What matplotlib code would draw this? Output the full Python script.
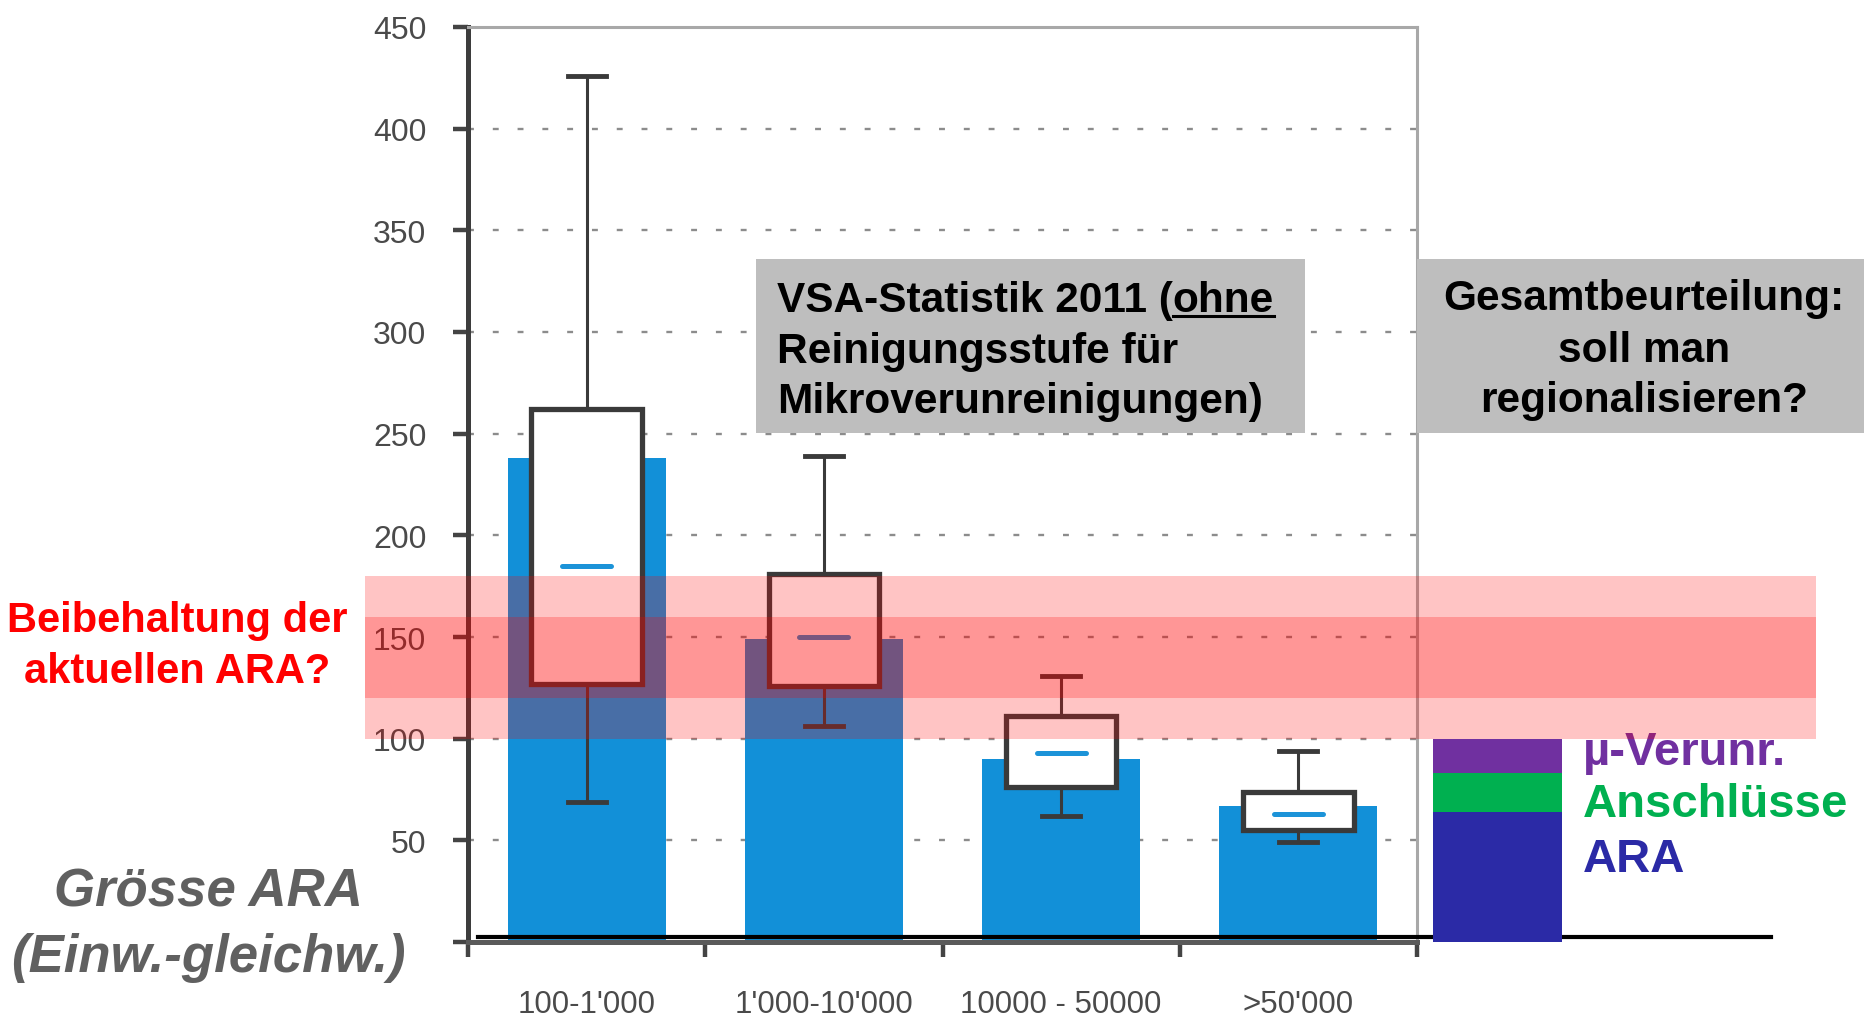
import numpy as np
import matplotlib
matplotlib.use("Agg")
import matplotlib.pyplot as plt
from matplotlib.patches import Rectangle

plt.rcParams['font.family'] = ['Liberation Sans', 'DejaVu Sans']

# --- data -------------------------------------------------------------
categories = ["100-1'000", "1'000-10'000", "10000 - 50000", ">50'000"]
bar_values = [238, 149, 90, 67]
whisker_low = [69, 106, 62, 49]
q1 = [127, 126, 76, 55]
median = [185, 150, 93, 63]
q3 = [262, 181, 111, 74]
whisker_high = [426, 239, 131, 94]

y_ticks = [0, 50, 100, 150, 200, 250, 300, 350, 400, 450]
y_tick_labels = ['', '50', '100', '150', '200', '250', '300', '350', '400', '450']

stack_labels = ['ARA', 'Anschlüsse', 'µ-Verunr.']
stack_values = [64, 19, 17]
stack_colors = ['#2b2aa6', '#00b050', '#7030a0']

band_outer = (100, 180)
band_inner = (120, 160)

# --- figure helpers (pixel -> figure fraction) -----------------------
W, H = 1864, 1020
fig = plt.figure(figsize=(W / 100, H / 100), dpi=100)


def fx(x):
    return x / W


def fy(y):
    return 1 - y / H


Y0, Y1 = 943, 28  # pixel rows of value 0 and 450

# --- main chart -------------------------------------------------------
ax = fig.add_axes([fx(468), fy(Y0), (1417 - 468) / W, (Y0 - Y1) / H], zorder=0)
ax.set_xlim(0.5, 4.5)
ax.set_ylim(0, 450)
x = np.arange(1, len(categories) + 1)

for g in y_ticks[1:-1]:
    ax.axhline(g, color='#8c8c8c', lw=1.7, ls=(0, (2.5, 8)), zorder=0.5)

ax.bar(x, bar_values, width=0.665, color='#1290d8', zorder=1)

stats = [dict(med=m, q1=a, q3=b, whislo=lo, whishi=hi, fliers=[])
         for m, a, b, lo, hi in zip(median, q1, q3, whisker_low, whisker_high)]
ax.bxp(stats, positions=x, widths=0.465, showfliers=False, patch_artist=True,
       manage_ticks=False, capwidths=0.16,
       boxprops=dict(facecolor='white', edgecolor='#3a3a3a', linewidth=3.8),
       whiskerprops=dict(color='#3a3a3a', linewidth=2.2),
       capprops=dict(color='#3a3a3a', linewidth=3.5),
       medianprops=dict(linewidth=0), zorder=2)
ax.hlines(median, x - 0.103, x + 0.103, colors='#1c93d8', lw=3.6,
          capstyle='round', zorder=3)

ax.axhline(2.5, xmin=(478 - 468) / 949, xmax=(1771 - 468) / 949,
           color='black', lw=3, clip_on=False, zorder=4)

ax.spines['left'].set(color='#3d3d3d', lw=3.6)
ax.spines['bottom'].set(color='#5a5a5a', lw=3.6)
for s in ('top', 'right'):
    ax.spines[s].set(color='#a8a8a8', lw=2.2)

ax.set_yticks(y_ticks, y_tick_labels)
ax.tick_params(axis='y', length=11, width=3.2, color='#444444',
               labelsize=23, labelcolor='#4a4a4a', pad=19)
ax.set_xticks(np.arange(0.5, 5.0, 1.0))
ax.set_xticklabels([])
ax.set_xticks(x, minor=True)
ax.set_xticklabels(categories, minor=True)
ax.tick_params(axis='x', which='major', length=11, width=3.2, color='#444444')
ax.tick_params(axis='x', which='minor', length=0, labelsize=22.5,
               labelcolor='#4a4a4a', pad=34)

# --- stacked cost bar on the right -----------------------------------
sax = fig.add_axes([fx(1433), fy(Y0), 129 / W, (Y0 - Y1) / H], zorder=1)
sax.set_xlim(-0.5, 0.5)
sax.set_ylim(0, 450)
sax.set_axis_off()
bottom = 0
for v, c in zip(stack_values, stack_colors):
    sax.bar(0, v, bottom=bottom, width=1.0, color=c, lw=0)
    bottom += v

legend_y = [871.7, 816.7, 765]
for lab, c, yy in zip(stack_labels, stack_colors, legend_y):
    fig.text(fx(1583), fy(yy), lab, color=c, fontsize=34, fontweight='bold',
             va='baseline', ha='left', zorder=3)

# --- highlighted range ------------------------------------------------
bax = fig.add_axes([fx(365), fy(Y0), (1816 - 365) / W, (Y0 - Y1) / H], zorder=10)
bax.set_xlim(0, 1)
bax.set_ylim(0, 450)
bax.set_axis_off()
bax.axhspan(*band_outer, color='red', alpha=0.23, lw=0)
bax.axhspan(*band_inner, color='red', alpha=0.23, lw=0)

# --- annotation boxes -------------------------------------------------
fig.add_artist(Rectangle((fx(756), fy(434)), (1305 - 756) / W, (434 - 260) / H,
                         transform=fig.transFigure, facecolor='#bebebe',
                         edgecolor='none', zorder=4))
fig.add_artist(Rectangle((fx(1417), fy(434)), (1864 - 1417) / W, (434 - 260) / H,
                         transform=fig.transFigure, facecolor='#bebebe',
                         edgecolor='none', zorder=4))

box_font = dict(fontsize=30.5, fontweight='bold', color='black', va='baseline', zorder=5)
renderer = fig.canvas.get_renderer()
t1 = fig.text(fx(777), fy(311.7), 'VSA-Statistik 2011 (', ha='left', **box_font)
e1 = t1.get_window_extent(renderer)
t2 = fig.text(e1.x1 / W, fy(311.7), 'ohne', ha='left', **box_font)
e2 = t2.get_window_extent(renderer)
fig.add_artist(plt.Line2D([e2.x0 / W, e2.x1 / W], [fy(316.5), fy(316.5)],
                          transform=fig.transFigure, color='black', lw=2.2,
                          zorder=5))
fig.text(fx(777), fy(363.3), 'Reinigungsstufe für', ha='left', **box_font)
fig.text(fx(777), fy(413.3), 'Mikroverunreinigungen)', ha='left', **box_font)

for line, yy in zip(['Gesamtbeurteilung:', 'soll man', 'regionalisieren?'],
                    [310, 361.7, 412]):
    fig.text(fx(1644), fy(yy), line, ha='center', **box_font)

# --- left side labels -------------------------------------------------
red_font = dict(fontsize=30, fontweight='bold', color='#ff0000',
                ha='center', va='baseline')
fig.text(fx(177), fy(632), 'Beibehaltung der', **red_font)
fig.text(fx(177), fy(683), 'aktuellen ARA?', **red_font)

grey_font = dict(fontsize=38, fontweight='bold', style='italic',
                 color='#606060', ha='center', va='baseline')
fig.text(fx(208), fy(906.7), 'Grösse ARA', **grey_font)
fig.text(fx(208), fy(971.7), '(Einw.-gleichw.)', **grey_font)

fig.savefig('out.png', dpi=100)
